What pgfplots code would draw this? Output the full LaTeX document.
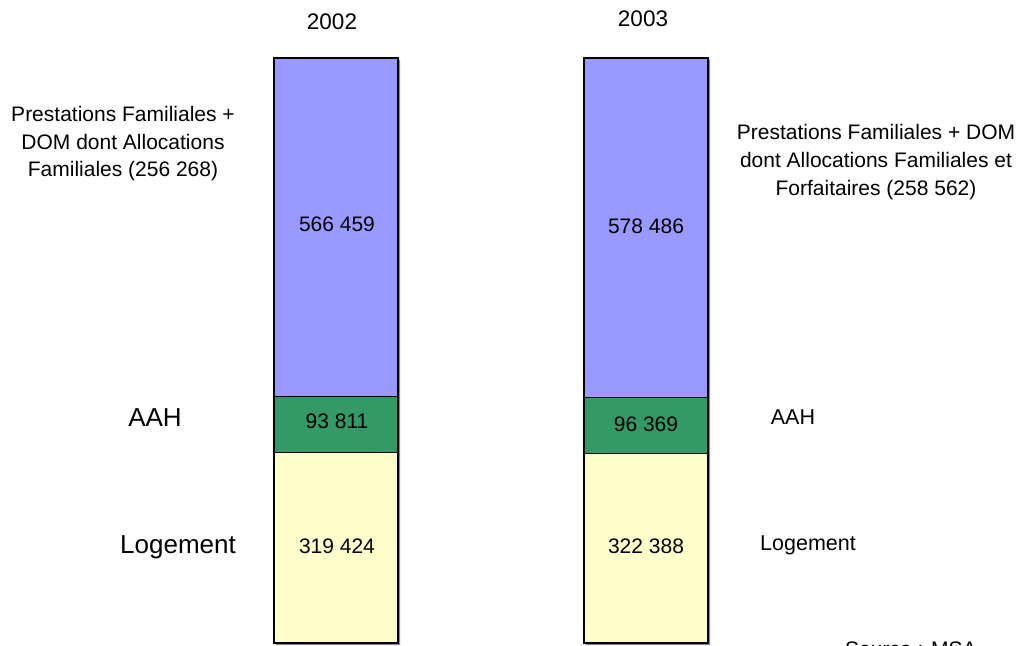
\documentclass[border=0pt]{standalone}
\usepackage{pgfplots}
\pgfplotsset{compat=1.18}
\usepackage{pgfplotstable}
\usepackage{fontspec}
\setmainfont{Liberation Sans}

\definecolor{pfcol}{HTML}{9999FF}
\definecolor{aahcol}{HTML}{339966}
\definecolor{logcol}{HTML}{FFFFCC}

\pgfplotstableread{
x   log    aah   pf
336 319424 93811 566459
646 322388 96369 578486
}\data
\pgfplotstablecreatecol[expr={\thisrow{log}+\thisrow{aah}+\thisrow{pf}}]{tot}\data

\pgfplotsset{barframe/.style={
  at={(0,0)}, anchor=south west, scale only axis,
  width=1024pt, height=645pt,
  xmin=0, xmax=1024, ymin=-0.342, ymax=109.915,
  bar width=124pt, hide axis}}

\begin{document}
\begin{tikzpicture}
\path[use as bounding box] (0,0) rectangle (1024pt,645pt);
% shadow
\begin{axis}[barframe, at={(2pt,-2pt)}, ybar, bar shift=0pt]
\addplot[fill=black!45, draw=none] table[x=x, y expr={(\thisrow{log}+\thisrow{aah}+\thisrow{pf})/\thisrow{tot}*100}]{\data};
\end{axis}
% bars (100% stacked)
\begin{axis}[barframe, ybar stacked]
\addplot[fill=logcol, draw=black, line width=1.2pt] table[x=x, y expr={\thisrow{log}/\thisrow{tot}*100}]{\data};
\addplot[fill=aahcol, draw=black, line width=1.2pt] table[x=x, y expr={\thisrow{aah}/\thisrow{tot}*100}]{\data};
\addplot[fill=pfcol, draw=black, line width=1.2pt] table[x=x, y expr={\thisrow{pf}/\thisrow{tot}*100}]{\data};
\end{axis}
% labels (pixel coords: x, 645 - y)
\begin{scope}[every node/.style={inner sep=0pt, text=black}]
\node[font=\fontsize{22.5}{26}\selectfont] at (332pt,623pt) {2002};
\node[font=\fontsize{22.5}{26}\selectfont] at (643pt,626pt) {2003};
\node[font=\fontsize{21}{27.5}\selectfont, align=center] at (123pt,501pt) {Prestations Familiales +\\DOM dont Allocations\\Familiales (256 268)};
\node[font=\fontsize{21}{28}\selectfont, align=center] at (876pt,483pt) {Prestations Familiales + DOM\\dont Allocations Familiales et\\Forfaitaires (258 562)};
\node[font=\fontsize{21}{25}\selectfont] at (337pt,421pt) {566 459};
\node[font=\fontsize{21}{25}\selectfont] at (337pt,224pt) {93 811};
\node[font=\fontsize{21}{25}\selectfont] at (337pt,99pt) {319 424};
\node[font=\fontsize{21}{25}\selectfont] at (646pt,419pt) {578 486};
\node[font=\fontsize{21}{25}\selectfont] at (646pt,221pt) {96 369};
\node[font=\fontsize{21}{25}\selectfont] at (646pt,99pt) {322 388};
\node[font=\fontsize{26}{30}\selectfont] at (155pt,227pt) {AAH};
\node[font=\fontsize{26}{30}\selectfont] at (178pt,98pt) {Logement};
\node[font=\fontsize{21.5}{25}\selectfont] at (793pt,228pt) {AAH};
\node[font=\fontsize{21.5}{25}\selectfont] at (808pt,100pt) {Logement};
\node[font=\fontsize{21}{25}\selectfont, anchor=base west] at (845pt,-11pt) {Source : MSA};
\end{scope}
\end{tikzpicture}
\end{document}
